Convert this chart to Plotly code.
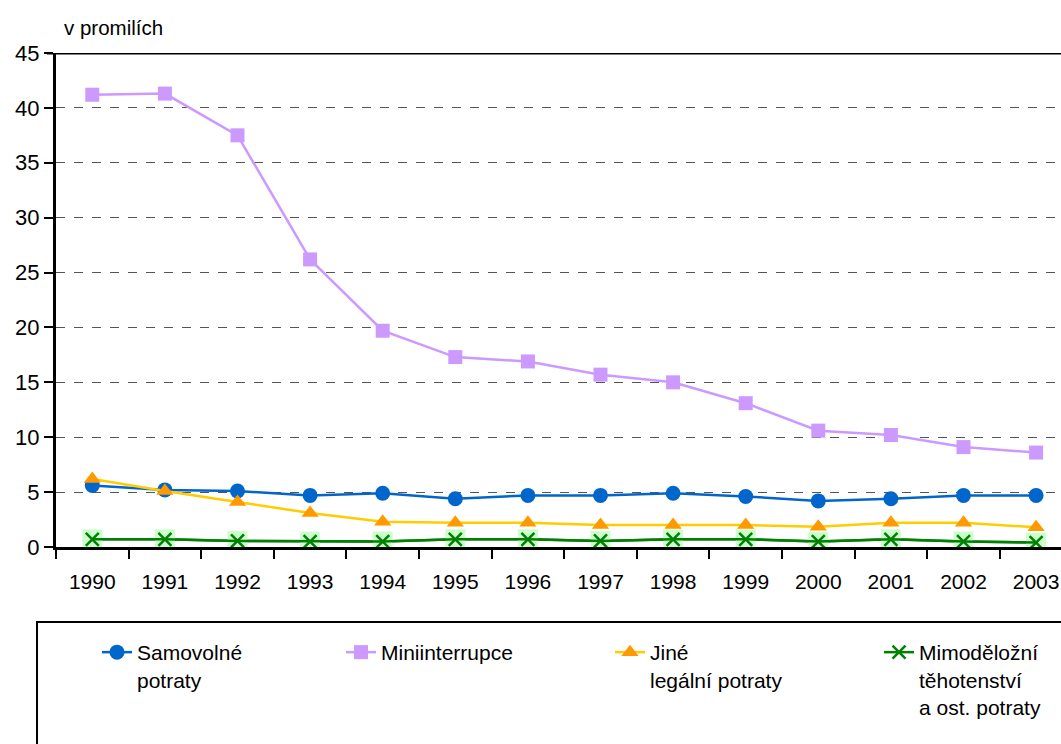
import plotly.graph_objects as go

years = ["1990", "1991", "1992", "1993", "1994", "1995", "1996", "1997",
         "1998", "1999", "2000", "2001", "2002", "2003"]
samovolne = [5.6, 5.2, 5.1, 4.7, 4.9, 4.4, 4.7, 4.7, 4.9, 4.6, 4.2, 4.4, 4.7, 4.7]
miniinterrupce = [41.2, 41.3, 37.5, 26.2, 19.7, 17.3, 16.9, 15.7, 15.0, 13.1, 10.6, 10.2, 9.1, 8.6]
jine_legalni = [6.2, 5.1, 4.1, 3.1, 2.3, 2.2, 2.2, 2.0, 2.0, 2.0, 1.85, 2.2, 2.2, 1.8]
mimodelozni = [0.7, 0.7, 0.55, 0.5, 0.5, 0.7, 0.7, 0.55, 0.7, 0.7, 0.5, 0.7, 0.5, 0.4]
y_ticks = [0, 5, 10, 15, 20, 25, 30, 35, 40, 45]

names = ["Samovolné<br>potraty", "Miniinterrupce", "Jiné<br>legální potraty",
         "Mimoděložní<br>těhotenství<br>a ost. potraty"]

FONT = "Liberation Sans, Arial, sans-serif"
W, H = 1061, 744
L, T, B = 56, 53, 197
plot_w = W - L

fig = go.Figure()

fig.add_trace(go.Scatter(
    x=years, y=samovolne, name=names[0], mode="lines+markers", legend="legend",
    line=dict(color="#0066CC", width=2.5),
    marker=dict(symbol="circle", size=15, color="#0066CC")))
fig.add_trace(go.Scatter(
    x=years, y=miniinterrupce, name=names[1], mode="lines+markers", legend="legend2",
    line=dict(color="#CC99FF", width=2.5),
    marker=dict(symbol="square", size=14, color="#CC99FF")))
fig.add_trace(go.Scatter(
    x=years, y=jine_legalni, name=names[2], mode="lines+markers", legend="legend3",
    line=dict(color="#FFCC00", width=2.5),
    marker=dict(symbol="triangle-up", size=15, color="#FF9900")))
fig.add_trace(go.Scatter(
    x=years, y=mimodelozni, name=names[3], mode="lines", legend="legend4",
    showlegend=False, hoverinfo="skip",
    line=dict(color="#008000", width=2.5)))
fig.add_trace(go.Scatter(
    x=years, y=mimodelozni, mode="markers", showlegend=False, hoverinfo="skip",
    marker=dict(symbol="square", size=20, color="#CCFFCC")))
fig.add_trace(go.Scatter(
    x=years, y=mimodelozni, name=names[3], mode="lines+markers", legend="legend4",
    line=dict(color="#008000", width=2.5),
    marker=dict(symbol="x-thin", size=13, line=dict(color="#008000", width=2.5))))

px_per_cat = 72.6
x_max = plot_w / px_per_cat - 0.5

def paper_x(px):
    return (px - L) / plot_w

def paper_y(py):
    return -(py - (H - B)) / (H - T - B)

legend_common = dict(
    orientation="v", bgcolor="rgba(0,0,0,0)", borderwidth=0,
    font=dict(family=FONT, size=21, color="#000000"),
    xanchor="left", yanchor="top", valign="top", tracegroupgap=0,
)
ly = paper_y(632)
fig.update_layout(
    legend=dict(x=paper_x(97), y=ly, **legend_common),
    legend2=dict(x=paper_x(341), y=ly, **legend_common),
    legend3=dict(x=paper_x(610), y=ly, **legend_common),
    legend4=dict(x=paper_x(879), y=ly, **legend_common),
)

fig.update_layout(
    width=W, height=H,
    margin=dict(l=L, r=0, t=T, b=B),
    paper_bgcolor="white", plot_bgcolor="white",
    font=dict(family=FONT, size=20, color="#000000"),
    showlegend=True,
    xaxis=dict(
        type="category", range=[-0.5, x_max],
        showline=True, linecolor="#000000", linewidth=3,
        ticks="outside", tickson="boundaries", ticklen=9, tickwidth=2,
        tickcolor="#000000", showgrid=False, zeroline=False,
        ticklabelstandoff=14,
        tickfont=dict(family=FONT, size=21, color="#000000"),
    ),
    yaxis=dict(
        range=[0, 45], tickvals=y_ticks,
        showline=True, linecolor="#000000", linewidth=3,
        ticks="outside", ticklen=9, tickwidth=2, tickcolor="#000000",
        showgrid=True, gridcolor="#555555", gridwidth=1, griddash="dash",
        zeroline=False,
        tickfont=dict(family=FONT, size=22, color="#000000"),
    ),
    shapes=[
        dict(type="line", xref="paper", yref="y", x0=paper_x(47), x1=1.02,
             y0=45, y1=45, line=dict(color="#000000", width=3)),
        dict(type="rect", xref="paper", yref="paper",
             x0=paper_x(37), x1=paper_x(1080), y0=paper_y(622), y1=paper_y(770),
             line=dict(color="#000000", width=2), fillcolor="rgba(0,0,0,0)"),
    ],
    annotations=[
        dict(text="v promilích", xref="paper", yref="paper",
             x=paper_x(62), y=paper_y(27), xanchor="left", yanchor="middle",
             showarrow=False, font=dict(family=FONT, size=20.5, color="#000000")),
    ],
)

fig.write_html(
    "out.html",
    config={"displayModeBar": False},
    post_script="document.body.style.margin='0';document.body.style.overflow='hidden';",
)
